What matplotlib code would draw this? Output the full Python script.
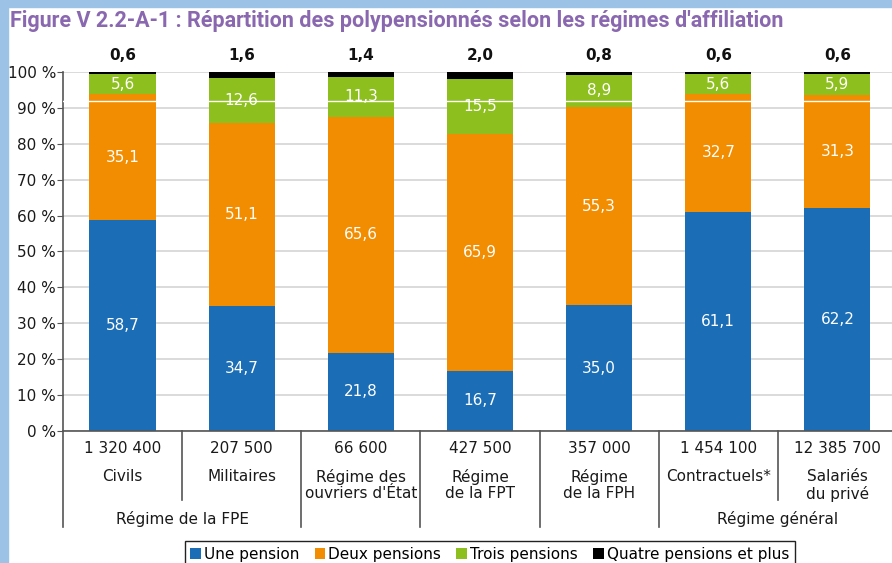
"""
Répartition des polypensionnés selon les régimes d'affiliation.

Stacked bars of the share of retirees receiving one, two, three or four
and more pensions, for each affiliation scheme.
"""
import matplotlib.pyplot as plt
from matplotlib.patches import Rectangle
from matplotlib.transforms import blended_transform_factory
import numpy as np


regimes = ["Civils", "Militaires", "Régime des\nouvriers d'État", "Régime\nde la FPT",
           "Régime\nde la FPH", "Contractuels*", "Salariés\ndu privé"]
effectifs = ["1 320 400", "207 500", "66 600", "427 500", "357 000", "1 454 100", "12 385 700"]
groupes = [("Régime de la FPE", 0.5), ("Régime général", 5.5)]

shares = {
    "Une pension": [58.7, 34.7, 21.8, 16.7, 35.0, 61.1, 62.2],
    "Deux pensions": [35.1, 51.1, 65.6, 65.9, 55.3, 32.7, 31.3],
    "Trois pensions": [5.6, 12.6, 11.3, 15.5, 8.9, 5.6, 5.9],
    "Quatre pensions et plus": [0.6, 1.6, 1.4, 2.0, 0.8, 0.6, 0.6],
}
colors = ["#1b6db5", "#f28c00", "#8dbf1f", "#000000"]

plt.style.use('default')


def format_share(value):
    return f"{value:.1f}".replace(".", ",")


def draw_categories(ax):
    """Write counts, scheme names and groups below the axis, with separators."""
    trans = blended_transform_factory(ax.transData, ax.transAxes)
    text_color = "#1a1a1a"

    for idx, (name, count) in enumerate(zip(regimes, effectifs)):
        ax.text(idx, -0.048, count, transform=trans, ha="center", va="center",
                fontsize=11, color=text_color)
        ax.text(idx, -0.105, name, transform=trans, ha="center", va="top",
                fontsize=11, color=text_color, linespacing=1.15)

    for label, x in groupes:
        ax.text(x, -0.245, label, transform=trans, ha="center", va="center",
                fontsize=11, color=text_color)

    # short separators inside a group, long ones between groups
    separators = {-0.5: -0.267, 0.5: -0.192, 1.5: -0.267, 2.5: -0.267,
                  3.5: -0.267, 4.5: -0.267, 5.5: -0.192}
    for x, bottom in separators.items():
        ax.plot([x, x], [0, bottom], transform=trans, color="#555555",
                linewidth=1.2, clip_on=False)


def plot_stacked(ax):
    x_values = np.arange(len(regimes))
    bottom = np.zeros(len(regimes))

    for idx, (label, values) in enumerate(shares.items()):
        values = np.asarray(values, dtype=float)
        ax.bar(x_values, values, bottom=bottom, width=0.555, color=colors[idx],
               label=label, zorder=2)

        for x, b, v in zip(x_values, bottom, values):
            if idx < 3:
                ax.text(x, b + v / 2, format_share(v), ha="center", va="center",
                        color="white", fontsize=11, zorder=3)
            else:
                ax.text(x, 102.5, format_share(v), ha="center", va="bottom",
                        color="#111111", fontsize=11, fontweight="bold",
                        clip_on=False)
        bottom += values


def main():

    fig = plt.figure(figsize=(8.92, 5.63), dpi=100)

    # light blue frame on the top and left edges
    fig.patches.append(Rectangle((0, 0), 0.0085, 1, transform=fig.transFigure,
                                 color="#9cc3e6", zorder=0))
    fig.patches.append(Rectangle((0, 0.987), 1, 0.013, transform=fig.transFigure,
                                 color="#9cc3e6", zorder=0))

    fig.text(0.011, 0.963, "Figure V 2.2-A-1 : Répartition des polypensionnés selon les régimes d'affiliation",
             ha="left", va="center", fontsize=15.5, fontweight="bold", color="#8a68b0",
             family=["Roboto", "DejaVu Sans"])

    ax = fig.add_axes([0.0706, 0.2345, 0.935, 0.6377])
    plot_stacked(ax)

    ax.set_xlim(-0.5, 6.5)
    ax.set_ylim(0, 100)
    ax.set_yticks(np.arange(0, 101, 10))
    ax.set_yticklabels([f"{v} %" for v in range(0, 101, 10)], fontsize=11, color="#1a1a1a")
    ax.set_xticks([])
    ax.tick_params(axis="y", length=4, color="#555555", pad=1)
    ax.spines["top"].set_visible(False)
    ax.spines["right"].set_visible(False)
    ax.spines["left"].set_color("#555555")
    ax.spines["bottom"].set_color("#555555")
    ax.spines["left"].set_linewidth(1.2)
    ax.spines["bottom"].set_linewidth(1.2)
    ax.set_axisbelow(True)
    ax.grid(True, axis="y", color="#d4d4d4", linewidth=1.2, zorder=0)
    ax.axhline(91.8, color="white", linewidth=1.0, zorder=4)  # scan line of the original

    draw_categories(ax)

    fig.legend(loc="upper center", bbox_to_anchor=(0.549, 0.052), ncol=4,
               fontsize=11, frameon=True, fancybox=False, edgecolor="#222222",
               handlelength=0.7, handleheight=0.7, handletextpad=0.2,
               columnspacing=1.0, borderpad=0.35, framealpha=1)

    fig.savefig("out.png", dpi=100)
    plt.close(fig)


main()
